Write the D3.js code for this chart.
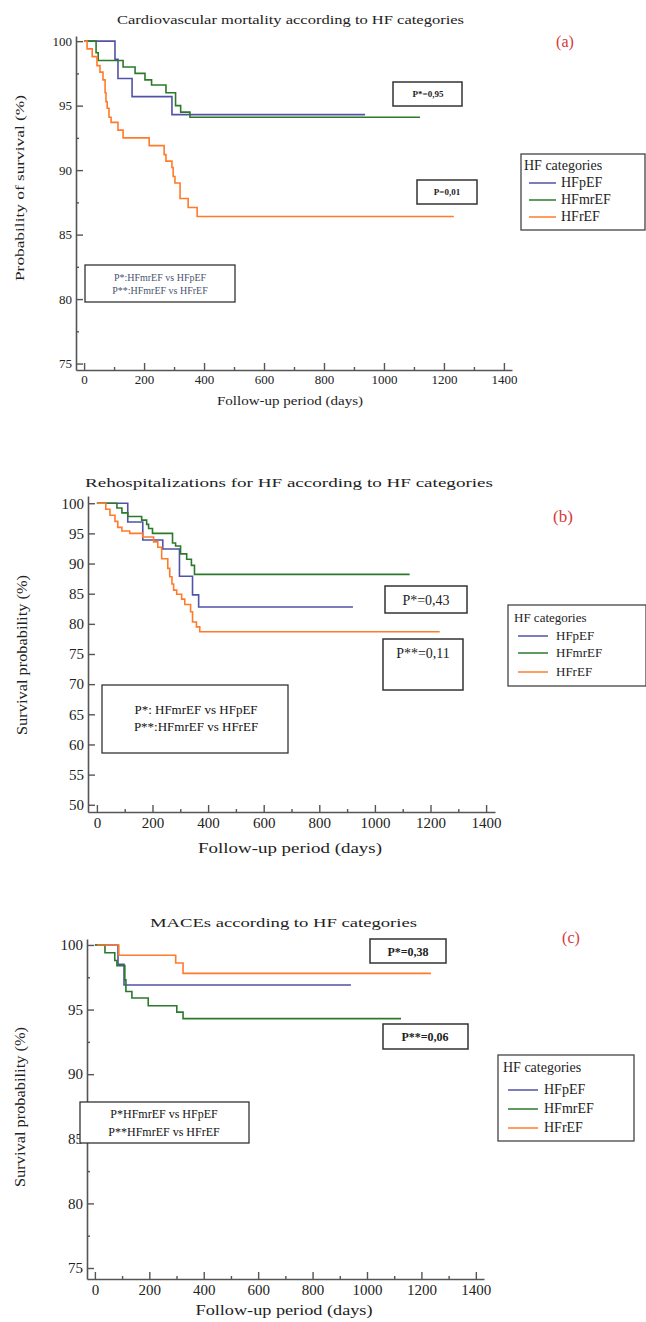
<!DOCTYPE html>
<html>
<head>
<meta charset="utf-8">
<script src="https://cdn.jsdelivr.net/npm/d3@7"></script>
<style>
  body { margin: 0; background: #fff; }
  svg { display: block; font-family: "Liberation Serif", "DejaVu Serif", serif; }
</style>
</head>
<body>
<svg width="646" height="1322"></svg>
<script>
// categories and colours
var categories = ["HFpEF", "HFmrEF", "HFrEF"];
var colors = ["#5252a8", "#2b7a2b", "#ff7b2a"];

// x ticks (days)
var xTicks = [0, 200, 400, 600, 800, 1000, 1200, 1400];
var xMinor = [100, 300, 500, 700, 900, 1100, 1300];

// (a) cardiovascular mortality, [day, survival %]
var cvPreserved = [[0,100],[103,98.6],[113,97.1],[160,95.7],[293,94.3],[937,94.3]];
var cvMidrange = [[0,100],[40,99.1],[47,98.5],[130,98.0],[170,97.5],[203,97.0],[225,96.6],[273,96.0],[305,95.0],[322,94.5],[353,94.1],[1120,94.1]];
var cvReduced = [[0,100],[10,99.4],[27,98.8],[43,98.1],[53,97.6],[63,97.0],[70,96.0],[73,95.3],[77,94.8],[83,94.1],[90,93.7],[113,93.1],[130,92.5],[217,91.9],[267,91.2],[273,90.7],[293,90.2],[297,89.5],[303,89.0],[320,87.8],[347,87.1],[377,86.4],[1233,86.4]];
var cvYTicks = [75, 80, 85, 90, 95, 100];
var cvYMinor = [77.5, 82.5, 87.5, 92.5, 97.5];

// (b) rehospitalizations for HF
var rhPreserved = [[0,100],[111,96.9],[165,93.9],[237,92.4],[297,87.9],[344,84.8],[366,82.8],[921,82.8]];
var rhMidrange = [[0,100],[72,99.2],[90,98.4],[111,97.8],[161,97.2],[179,96.5],[186,95.8],[200,95.0],[272,93.4],[283,92.9],[301,91.6],[323,90.7],[340,89.7],[351,88.2],[1125,88.2]];
var rhReduced = [[0,100],[32,99],[47,98],[65,97],[75,96],[90,95.4],[118,95.0],[165,94.4],[204,93.6],[219,92.7],[233,90.8],[255,89.2],[262,87.8],[270,86.6],[276,85.6],[287,84.9],[305,84.1],[316,83.2],[337,82.0],[344,80.3],[358,79.5],[370,78.7],[1233,78.7]];
var rhYTicks = [50, 55, 60, 65, 70, 75, 80, 85, 90, 95, 100];

// (c) MACEs
var mcPreserved = [[0,100],[85,98.5],[107,96.9],[941,96.9]];
var mcMidrange = [[0,100],[37,99.4],[73,98.8],[81,98.4],[110,97.3],[114,96.4],[136,95.9],[196,95.3],[301,94.8],[324,94.3],[1125,94.3]];
var mcReduced = [[7,100],[88,99.2],[297,98.6],[324,97.8],[1235,97.8]];
var mcYTicks = [75, 80, 85, 90, 95, 100];
var mcYMinor = [77.5, 82.5, 87.5, 92.5, 97.5];

function main() {
    var svg = d3.select("svg");

    var panels = [
        {
            series: [cvPreserved, cvMidrange, cvReduced],
            yTicks: cvYTicks, yMinor: cvYMinor,
            xDomain: [-27, 1427], xRange: [76, 512],
            yDomain: [74.5, 100.4], yRange: [370, 36],
            tickFont: 13, labelFont: 12,
            title: "Cardiovascular mortality   according to HF categories",
            titleX: 117, titleY: 24, titleLen: 347, titleFont: 12,
            tag: "(a)", tagX: 565, tagY: 47, tagFont: 16,
            xLabel: "Follow-up period (days)", xLabelX: 290, xLabelY: 405, xLabelLen: 146,
            yLabel: "Probability of survival (%)", yLabelX: 24, yLabelY: 188, yLabelLen: 186,
            pBoxes: [
                {text: "P*=0,95", x: 393, y: 82, w: 69, h: 24, bold: true, size: 9, tx: 428, ty: 97},
                {text: "P=0,01", x: 417, y: 180, w: 60, h: 24, bold: true, size: 9, tx: 447, ty: 195}
            ],
            note: {x: 85, y: 265, w: 150, h: 37, size: 10, color: "#4a5470",
                   lines: ["P*:HFmrEF vs HFpEF", "P**:HFmrEF vs HFrEF"], ys: [281, 294], cx: 160},
            legend: {x: 521, y: 154, w: 124, h: 76, size: 14, titleX: 524, titleY: 170,
                     lx1: 529, lx2: 556, tx: 561, ys: [183, 200, 217]}
        },
        {
            series: [rhPreserved, rhMidrange, rhReduced],
            yTicks: rhYTicks, yMinor: [],
            xDomain: [-32, 1432], xRange: [88, 495],
            yDomain: [48.8, 101.2], yRange: [812, 496],
            tickFont: 15, labelFont: 14,
            title: "Rehospitalizations for HF according to HF categories",
            titleX: 85, titleY: 487, titleLen: 408, titleFont: 13,
            tag: "(b)", tagX: 563, tagY: 522, tagFont: 17,
            xLabel: "Follow-up period (days)", xLabelX: 290, xLabelY: 853, xLabelLen: 184,
            yLabel: "Survival probability (%)", yLabelX: 27, yLabelY: 655, yLabelLen: 160,
            pBoxes: [
                {text: "P*=0,43", x: 385, y: 586, w: 82, h: 27, bold: false, size: 14, tx: 426, ty: 605},
                {text: "P**=0,11", x: 383, y: 639, w: 80, h: 51, bold: false, size: 14, tx: 423, ty: 658}
            ],
            note: {x: 102, y: 685, w: 186, h: 68, size: 13, color: "#111",
                   lines: ["P*: HFmrEF vs HFpEF", "P**:HFmrEF vs HFrEF"], ys: [714, 731], cx: 196},
            legend: {x: 508, y: 605, w: 138, h: 81, size: 13, titleX: 514, titleY: 622,
                     lx1: 518, lx2: 548, tx: 556, ys: [636, 653, 672]}
        },
        {
            series: [mcPreserved, mcMidrange, mcReduced],
            yTicks: mcYTicks, yMinor: mcYMinor,
            xDomain: [-29, 1430], xRange: [87, 484],
            yDomain: [74.15, 100.46], yRange: [1279, 939],
            tickFont: 15, labelFont: 14,
            title: "MACEs according to HF categories",
            titleX: 150, titleY: 927, titleLen: 267, titleFont: 13,
            tag: "(c)", tagX: 571, tagY: 943, tagFont: 16,
            xLabel: "Follow-up period (days)", xLabelX: 284, xLabelY: 1315, xLabelLen: 177,
            yLabel: "Survival probability (%)", yLabelX: 25, yLabelY: 1107, yLabelLen: 160,
            pBoxes: [
                {text: "P*=0,38", x: 370, y: 939, w: 76, h: 24, bold: true, size: 12, tx: 408, ty: 956},
                {text: "P**=0,06", x: 383, y: 1024, w: 85, h: 25, bold: true, size: 12, tx: 425, ty: 1041}
            ],
            note: {x: 80, y: 1102, w: 169, h: 41, size: 12, color: "#111",
                   lines: ["P*HFmrEF vs HFpEF", "P**HFmrEF vs HFrEF"], ys: [1118, 1136], cx: 164},
            legend: {x: 498, y: 1055, w: 136, h: 86, size: 14, titleX: 503, titleY: 1072,
                     lx1: 508, lx2: 538, tx: 544, ys: [1090, 1109, 1128]}
        }
    ];

    panels.forEach(function (p) {
        var x = d3.scaleLinear().domain(p.xDomain).range(p.xRange);
        var y = d3.scaleLinear().domain(p.yDomain).range(p.yRange);
        var g = svg.append("g");

        // axes (inward ticks)
        g.append("g")
            .attr("transform", "translate(0," + p.yRange[0] + ")")
            .call(d3.axisBottom(x).tickValues(xTicks).tickFormat(d3.format("d"))
                .tickSizeInner(-7).tickSizeOuter(0).tickPadding(5));
        g.append("g")
            .attr("transform", "translate(0," + p.yRange[0] + ")")
            .call(d3.axisBottom(x).tickValues(xMinor).tickSizeInner(-3).tickSizeOuter(0).tickFormat(""))
            .select(".domain").remove();
        g.append("g")
            .attr("transform", "translate(" + p.xRange[0] + ",0)")
            .call(d3.axisLeft(y).tickValues(p.yTicks).tickFormat(d3.format("d"))
                .tickSizeInner(-7).tickSizeOuter(0).tickPadding(4));
        g.append("g")
            .attr("transform", "translate(" + p.xRange[0] + ",0)")
            .call(d3.axisLeft(y).tickValues(p.yMinor).tickSizeInner(-3).tickSizeOuter(0).tickFormat(""))
            .select(".domain").remove();

        g.selectAll(".domain").style("stroke", "#555").style("stroke-width", 1.6);
        g.selectAll(".tick line").style("stroke", "#555").style("stroke-width", 1.4);
        g.selectAll(".tick text")
            .style("font-family", "Liberation Serif, serif")
            .style("font-size", p.tickFont + "px")
            .style("fill", "#222");

        // survival curves
        var line = d3.line()
            .x(function (d) { return x(d[0]); })
            .y(function (d) { return y(d[1]); })
            .curve(d3.curveStepAfter);
        p.series.forEach(function (s, i) {
            g.append("path")
                .attr("d", line(s))
                .attr("fill", "none")
                .attr("stroke", colors[i])
                .attr("stroke-width", 1.6);
        });

        // title and panel tag
        g.append("text")
            .attr("x", p.titleX).attr("y", p.titleY)
            .attr("textLength", p.titleLen).attr("lengthAdjust", "spacingAndGlyphs")
            .style("font-size", p.titleFont + "px").style("fill", "#222")
            .text(p.title);
        g.append("text")
            .attr("x", p.tagX).attr("y", p.tagY)
            .attr("text-anchor", "middle")
            .style("font-size", p.tagFont + "px").style("fill", "#d63a3a")
            .text(p.tag);

        // axis labels
        g.append("text")
            .attr("x", p.xLabelX).attr("y", p.xLabelY)
            .attr("text-anchor", "middle")
            .attr("textLength", p.xLabelLen).attr("lengthAdjust", "spacingAndGlyphs")
            .style("font-size", p.labelFont + "px").style("fill", "#222")
            .text(p.xLabel);
        g.append("text")
            .attr("transform", "translate(" + p.yLabelX + "," + p.yLabelY + ") rotate(-90)")
            .attr("text-anchor", "middle")
            .attr("textLength", p.yLabelLen).attr("lengthAdjust", "spacingAndGlyphs")
            .style("font-size", p.labelFont + "px").style("fill", "#222")
            .text(p.yLabel);

        // p-value boxes
        p.pBoxes.forEach(function (b) {
            g.append("rect")
                .attr("x", b.x).attr("y", b.y).attr("width", b.w).attr("height", b.h)
                .attr("fill", "#fff").attr("stroke", "#333").attr("stroke-width", 1.5);
            g.append("text")
                .attr("x", b.tx).attr("y", b.ty)
                .attr("text-anchor", "middle")
                .style("font-size", b.size + "px")
                .style("font-weight", b.bold ? "bold" : "normal")
                .style("fill", "#222")
                .text(b.text);
        });

        // comparison note
        var n = p.note;
        g.append("rect")
            .attr("x", n.x).attr("y", n.y).attr("width", n.w).attr("height", n.h)
            .attr("fill", "#fff").attr("stroke", "#333").attr("stroke-width", 1.3);
        n.lines.forEach(function (t, i) {
            g.append("text")
                .attr("x", n.cx).attr("y", n.ys[i])
                .attr("text-anchor", "middle")
                .style("font-size", n.size + "px").style("fill", n.color)
                .text(t);
        });

        // legend
        var L = p.legend;
        g.append("rect")
            .attr("x", L.x).attr("y", L.y).attr("width", L.w).attr("height", L.h)
            .attr("fill", "#fff").attr("stroke", "#444").attr("stroke-width", 1.3);
        g.append("text")
            .attr("x", L.titleX).attr("y", L.titleY)
            .style("font-size", L.size + "px").style("fill", "#222")
            .text("HF categories");
        categories.forEach(function (c, i) {
            g.append("line")
                .attr("x1", L.lx1).attr("x2", L.lx2)
                .attr("y1", L.ys[i]).attr("y2", L.ys[i])
                .attr("stroke", colors[i]).attr("stroke-width", 1.5);
            g.append("text")
                .attr("x", L.tx).attr("y", L.ys[i] + 4)
                .style("font-size", L.size + "px").style("fill", "#222")
                .text(c);
        });
    });
}

main();
</script>
</body>
</html>
